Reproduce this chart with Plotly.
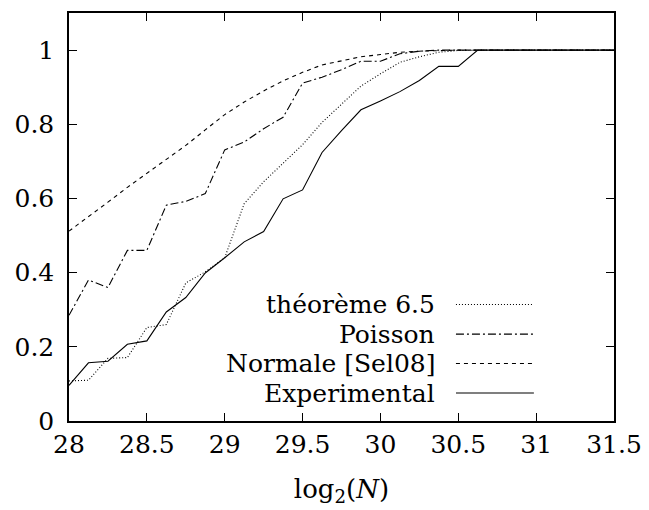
import plotly.graph_objects as go

log2N = [28.0, 28.125, 28.25, 28.375, 28.5, 28.625, 28.75, 28.875, 29.0, 29.125,
         29.25, 29.375, 29.5, 29.625, 29.75, 29.875, 30.0, 30.125, 30.25, 30.375,
         30.5, 30.625, 30.75, 30.875, 31.0, 31.125, 31.25, 31.375, 31.5]

theoreme = [0.108, 0.110, 0.169, 0.171, 0.252, 0.260, 0.372, 0.402, 0.440, 0.586,
            0.645, 0.694, 0.745, 0.805, 0.855, 0.903, 0.936, 0.967, 0.982, 0.994,
            0.999, 1.0, 1.0, 1.0, 1.0, 1.0, 1.0, 1.0, 1.0]

poisson = [0.285, 0.380, 0.360, 0.460, 0.460, 0.582, 0.592, 0.613, 0.731, 0.752,
           0.788, 0.819, 0.911, 0.927, 0.947, 0.970, 0.970, 0.990, 0.997, 1.0,
           1.0, 1.0, 1.0, 1.0, 1.0, 1.0, 1.0, 1.0, 1.0]

normale = [0.512, 0.550, 0.590, 0.630, 0.667, 0.705, 0.743, 0.785, 0.826, 0.860,
           0.890, 0.917, 0.940, 0.960, 0.972, 0.982, 0.988, 0.994, 0.997, 0.999,
           1.0, 1.0, 1.0, 1.0, 1.0, 1.0, 1.0, 1.0, 1.0]

experimental = [0.096, 0.157, 0.161, 0.207, 0.216, 0.294, 0.333, 0.399, 0.440, 0.483,
                0.511, 0.599, 0.623, 0.724, 0.783, 0.839, 0.863, 0.888, 0.918, 0.956,
                0.956, 1.0, 1.0, 1.0, 1.0, 1.0, 1.0, 1.0, 1.0]

series_names = ["théorème 6.5", "Poisson", "Normale [Sel08]", "Experimental"]
series_values = [theoreme, poisson, normale, experimental]
series_dash = ["1px,2px", "8px,3px,2px,3px", "4px,4px", "solid"]

x_ticks = [28, 28.5, 29, 29.5, 30, 30.5, 31, 31.5]
x_tick_labels = ["28", "28.5", "29", "29.5", "30", "30.5", "31", "31.5"]
y_ticks = [0, 0.2, 0.4, 0.6, 0.8, 1.0]
y_tick_labels = ["0", "0.2", "0.4", "0.6", "0.8", "1"]

FONT = "DejaVu Serif"
FS = 25

fig = go.Figure()
for name, vals, dash in zip(series_names, series_values, series_dash):
    fig.add_trace(go.Scatter(x=log2N, y=vals, mode="lines", name=name,
                             line=dict(color="black", width=1.1, dash=dash),
                             showlegend=False, cliponaxis=False))

# manual gnuplot-style legend: right-aligned text, sample on the right
legend_y = [0.2855, 0.213, 0.141, 0.0686]
for name, dash, ly in zip(series_names, series_dash, legend_y):
    fig.add_annotation(x=0.676, y=ly, xref="paper", yref="paper", text=name,
                       showarrow=False, xanchor="right", yanchor="middle",
                       font=dict(family=FONT, size=FS, color="black"))
    fig.add_shape(type="line", xref="paper", yref="paper",
                  x0=0.710, x1=0.853, y0=ly, y1=ly,
                  line=dict(color="black", width=1.1, dash=dash))

axis_common = dict(showline=True, linecolor="black", linewidth=1.5, mirror="allticks",
                   ticks="inside", ticklen=8, tickwidth=1.2, tickcolor="black",
                   showgrid=False, zeroline=False,
                   tickfont=dict(family=FONT, size=FS, color="black"))

fig.update_xaxes(range=[28, 31.5], tickvals=x_ticks, ticktext=x_tick_labels,
                 title=dict(text="log<sub>2</sub>(<i>N</i>)",
                            font=dict(family=FONT, size=FS + 1, color="black"), standoff=22),
                 **axis_common)
fig.update_yaxes(range=[0, 1.1], tickvals=y_ticks, ticktext=y_tick_labels,
                 ticklabelstandoff=8, **axis_common)

# the page body adds an 8px offset; the figure is sized to fill the rest of the window
fig.update_layout(width=641, height=502, plot_bgcolor="white", paper_bgcolor="white",
                  margin=dict(l=61, r=35, t=5, b=89, autoexpand=False), showlegend=False,
                  font=dict(family=FONT, size=FS, color="black"))

fig.write_html("out.html")
